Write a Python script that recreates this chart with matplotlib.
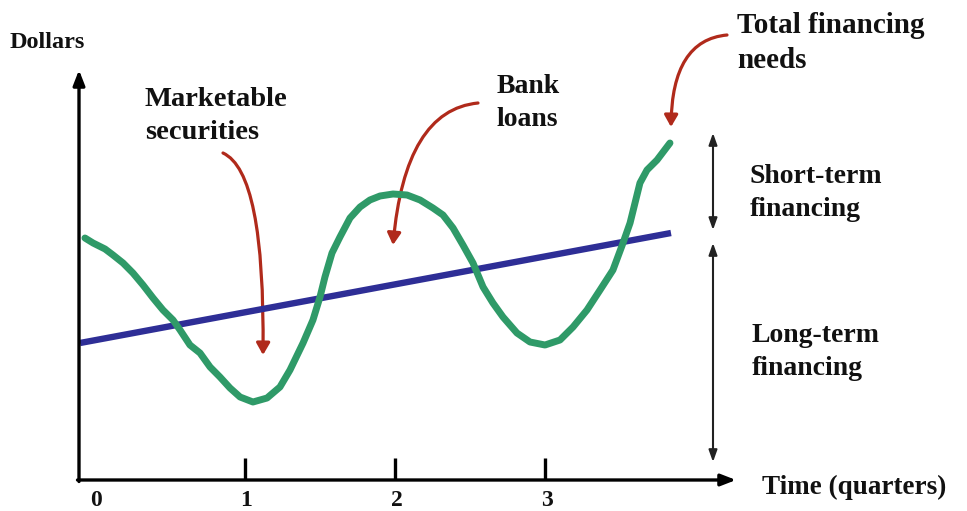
import matplotlib
matplotlib.use("Agg")
import matplotlib.pyplot as plt
from matplotlib.patches import FancyArrowPatch
from matplotlib.path import Path

# ---- data (x in quarters, y in dollars, arbitrary units) ----
quarters_ticks = [1, 2, 3]
tick_labels = ["0", "1", "2", "3"]
tick_label_pos = [0, 1, 2, 3]

total_x = [-0.067, -0.013, 0.067, 0.12, 0.187, 0.253, 0.32, 0.387, 0.453, 0.52,
           0.567, 0.633, 0.70, 0.767, 0.833, 0.90, 0.967, 1.053, 1.147, 1.233,
           1.30, 1.387, 1.453, 1.50, 1.533, 1.58, 1.633, 1.70, 1.767, 1.833,
           1.90, 1.987, 2.08, 2.167, 2.253, 2.32, 2.387, 2.453, 2.52, 2.587,
           2.653, 2.72, 2.813, 2.90, 3.00, 3.10, 3.187, 3.28, 3.367, 3.453,
           3.52, 3.567, 3.60, 3.633, 3.68, 3.747, 3.833]
total_y = [2.42, 2.37, 2.31, 2.25, 2.17, 2.07, 1.95, 1.82, 1.70, 1.60,
           1.50, 1.35, 1.27, 1.13, 1.03, 0.92, 0.83, 0.78, 0.82, 0.93,
           1.10, 1.37, 1.60, 1.83, 2.03, 2.27, 2.43, 2.62, 2.73, 2.80,
           2.84, 2.86, 2.85, 2.80, 2.72, 2.65, 2.52, 2.35, 2.17, 1.93,
           1.77, 1.63, 1.47, 1.38, 1.35, 1.40, 1.53, 1.70, 1.90, 2.10,
           2.37, 2.57, 2.77, 2.97, 3.10, 3.20, 3.37]

long_x = [-0.10, 3.84]
long_y = [1.37, 2.47]

GREEN = "#2f9a68"
BLUE = "#2e2e96"
RED = "#b02a1b"
TXT = "#111111"
FONT = "Liberation Serif"

W, H = 967, 511
fig = plt.figure(figsize=(W / 100, H / 100), dpi=100)
ax = fig.add_axes([0, 0, 1, 1])
ax.set_xlim((0 - 95) / 150, (W - 95) / 150)
ax.set_ylim((480 - H) / 100, 480 / 100)
ax.axis("off")


def P(px, py):
    return ((px - 95) / 150, (480 - py) / 100)


# axes with arrows
x_axis_y = 0.0
y_axis_x = P(79, 0)[0]
ax.annotate("", xy=(y_axis_x, P(0, 70)[1]), xytext=(y_axis_x, x_axis_y - 0.015),
            arrowprops=dict(arrowstyle="-|>,head_length=0.9,head_width=0.35",
                            color="black", lw=2.4, shrinkA=0, shrinkB=0))
ax.annotate("", xy=(P(736, 0)[0], x_axis_y), xytext=(y_axis_x - 0.01, x_axis_y),
            arrowprops=dict(arrowstyle="-|>,head_length=0.9,head_width=0.35",
                            color="black", lw=2.4, shrinkA=0, shrinkB=0))
for t in quarters_ticks:
    ax.plot([t, t], [x_axis_y, 0.22], color="black", lw=2.4, solid_capstyle="butt")
for t, lab in zip(tick_label_pos, tick_labels):
    ax.text(t + 0.01, -0.20, lab, ha="center", va="center", fontsize=17,
            fontweight="bold", family=FONT, color=TXT)

# lines
ax.plot(long_x, long_y, color=BLUE, lw=4.6, solid_capstyle="butt")
ax.plot(total_x, total_y, color=GREEN, lw=5.0, solid_capstyle="round",
        solid_joinstyle="round")

# double arrows
dx = P(713, 0)[0]
for top, bot in [(133, 230), (243, 462)]:
    ax.annotate("", xy=(dx, P(0, top)[1]), xytext=(dx, P(0, bot)[1]),
                arrowprops=dict(arrowstyle="<|-|>,head_length=0.7,head_width=0.25",
                                color="#222222", lw=1.5, shrinkA=0, shrinkB=0))

# red curved arrows (quadratic curves)
def red_arrow(p0, p1, p2):
    verts = [P(*p0), P(*p1), P(*p2)]
    path = Path(verts, [Path.MOVETO, Path.CURVE3, Path.CURVE3])
    arr = FancyArrowPatch(path=path, arrowstyle="-|>,head_length=7,head_width=4",
                          color=RED, lw=2.3)
    ax.add_patch(arr)

red_arrow((223, 153), (265, 172), (263, 355))
red_arrow((478, 103), (405, 110), (393, 245))
red_arrow((727, 35), (672, 40), (671, 127))

# texts
def label(px, py, s, size=20):
    x, y = P(px, py)
    ax.text(x, y, s, ha="left", va="center", fontsize=size, fontweight="bold",
            family=FONT, color=TXT, linespacing=1.4)

label(10, 42, "Dollars", 17.5)
label(145, 116, "Marketable\nsecurities", 20.5)
label(497, 103, "Bank\nloans")
label(737, 43, "Total financing\nneeds", 21)
label(750, 193, "Short-term\nfinancing")
label(752, 352, "Long-term\nfinancing")
label(762, 487, "Time (quarters)", 19.5)

fig.savefig("out.png", dpi=100)
